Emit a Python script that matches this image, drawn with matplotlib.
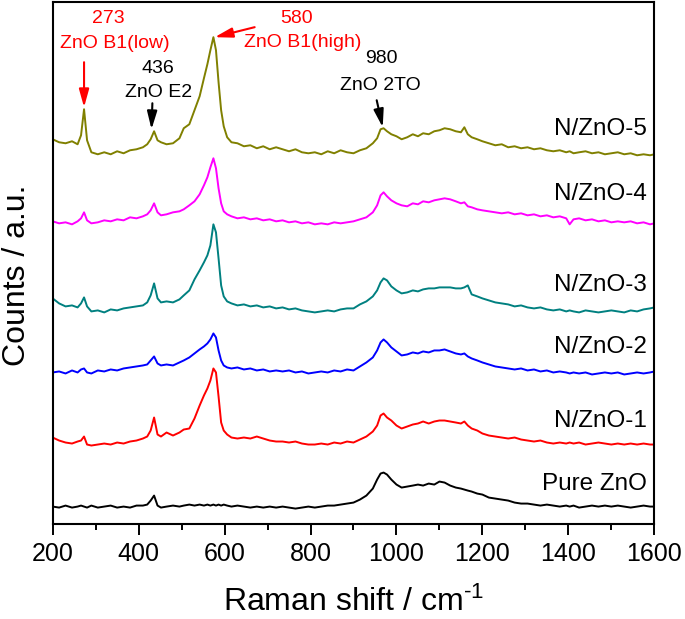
import matplotlib
matplotlib.use("Agg")
import matplotlib.pyplot as plt
from matplotlib.ticker import MultipleLocator

plt.rcParams['font.family'] = ['Liberation Sans', 'DejaVu Sans']
plt.rcParams['mathtext.default'] = 'regular'

# Raman shift grid (cm-1)
shift = [200, 215, 230, 245, 258, 266, 273, 280,
         290, 305, 320, 335, 350, 365, 380, 395,
         410, 420, 428, 436, 444, 452, 465, 480,
         495, 505, 518, 530, 542, 552, 560, 567,
         574, 580, 586, 592, 598, 606, 616, 630,
         645, 660, 675, 690, 705, 720, 735, 750,
         765, 780, 795, 810, 825, 840, 855, 870,
         885, 900, 915, 930, 945, 955, 963, 970,
         978, 988, 1000, 1012, 1025, 1038, 1050, 1062,
         1075, 1088, 1100, 1112, 1125, 1138, 1150, 1158,
         1166, 1175, 1188, 1200, 1215, 1230, 1245, 1260,
         1275, 1290, 1305, 1320, 1335, 1350, 1365, 1380,
         1395, 1403, 1412, 1425, 1440, 1455, 1470, 1485,
         1500, 1515, 1530, 1545, 1560, 1575, 1590, 1600]

# stacked intensities (a.u.), offsets already included
nzno5 = [385, 382, 381, 383, 380, 389, 415, 384,
         372, 370, 372, 370, 373, 371, 374, 375,
         377, 380, 385, 393, 384, 382, 380, 381,
         386, 396, 400, 414, 428, 446, 460, 474,
         487, 474, 442, 414, 398, 387, 382, 381,
         378, 379, 376, 378, 375, 377, 375, 373,
         375, 372, 371, 372, 370, 373, 371, 374,
         372, 371, 374, 376, 381, 386, 395, 396,
         393, 390, 388, 385, 387, 390, 388, 391,
         390, 393, 394, 396, 395, 393, 392, 397,
         390, 387, 385, 383, 381, 379, 380, 377,
         378, 376, 377, 375, 376, 374, 373, 374,
         372, 373, 371, 372, 373, 371, 372, 370,
         371, 372, 370, 371, 369, 370, 369, 370]

nzno4 = [303, 301, 302, 300, 303, 306, 312, 304,
         301, 302, 304, 303, 305, 304, 307, 306,
         308, 310, 314, 321, 312, 309, 310, 312,
         313, 315, 319, 323, 330, 339, 347, 357,
         366, 356, 336, 321, 313, 310, 308, 306,
         307, 305, 306, 304, 305, 303, 304, 302,
         303, 301, 302, 300, 301, 300, 302, 301,
         302, 303, 305, 307, 312, 319, 329, 332,
         328, 324, 321, 319, 318, 321, 320, 323,
         322, 324, 325, 326, 325, 323, 321, 322,
         318, 317, 315, 314, 313, 312, 311, 312,
         310, 311, 309, 310, 308, 309, 307, 308,
         306, 300, 305, 306, 304, 305, 303, 304,
         302, 303, 302, 303, 301, 302, 300, 301]

nzno3 = [226, 221, 218, 219, 217, 221, 227, 218,
         213, 214, 212, 215, 214, 216, 217, 218,
         219, 222, 229, 241, 226, 222, 223, 222,
         225, 229, 234, 245, 254, 262, 269, 279,
         300, 292, 266, 239, 228, 223, 221, 219,
         220, 218, 219, 217, 218, 216, 217, 215,
         216, 214, 213, 212, 213, 214, 213, 215,
         216, 216, 220, 223, 228, 234, 242, 246,
         244, 238, 234, 231, 232, 234, 233, 235,
         236, 236, 237, 237, 237, 236, 236, 237,
         239, 230, 228, 226, 224, 222, 221, 220,
         218, 219, 217, 216, 217, 215, 214, 215,
         213, 214, 213, 212, 214, 213, 212, 213,
         214, 213, 212, 214, 213, 215, 216, 217]

nzno2 = [152, 153, 151, 154, 152, 155, 156, 152,
         151, 154, 153, 155, 154, 156, 157, 158,
         159, 160, 164, 168, 161, 159, 160, 159,
         162, 164, 167, 171, 175, 178, 181, 185,
         191, 187, 174, 164, 159, 157, 156, 157,
         155, 156, 154, 155, 153, 154, 153, 154,
         152, 153, 151, 152, 153, 152, 154, 153,
         155, 154, 158, 162, 167, 174, 182, 185,
         182, 177, 173, 169, 170, 172, 171, 173,
         172, 174, 174, 175, 173, 171, 170, 171,
         168, 166, 164, 162, 160, 158, 157, 156,
         155, 156, 154, 155, 153, 154, 152, 153,
         152, 151, 152, 151, 152, 150, 151, 152,
         151, 152, 150, 151, 152, 151, 152, 153]

nzno1 = [87, 84, 82, 81, 83, 84, 88, 80,
         79, 80, 81, 80, 82, 81, 83, 84,
         86, 88, 94, 107, 90, 88, 92, 89,
         92, 95, 96, 106, 119, 129, 136, 144,
         156, 152, 128, 102, 94, 90, 87, 86,
         87, 86, 88, 86, 84, 83, 83, 82,
         83, 81, 80, 80, 81, 80, 82, 81,
         83, 82, 85, 88, 93, 99, 109, 111,
         107, 104, 99, 96, 98, 100, 101, 103,
         101, 103, 104, 104, 103, 102, 101, 103,
         99, 96, 94, 91, 89, 88, 87, 86,
         87, 85, 84, 83, 84, 82, 81, 82,
         81, 82, 81, 82, 80, 81, 82, 81,
         80, 81, 80, 81, 80, 81, 80, 80]

pure_zno = [18, 17, 19, 17, 18, 19, 18, 17,
            19, 17, 18, 19, 17, 18, 17, 19,
            19, 20, 24, 29, 19, 17, 18, 19,
            18, 19, 20, 19, 20, 19, 20, 19,
            20, 19, 20, 19, 20, 19, 18, 19,
            18, 17, 18, 17, 18, 17, 18, 17,
            16, 17, 18, 17, 18, 19, 19, 20,
            21, 22, 25, 29, 36, 45, 51, 52,
            50, 45, 40, 37, 38, 39, 40, 39,
            41, 40, 43, 42, 39, 37, 36, 35,
            34, 33, 31, 30, 27, 26, 25, 24,
            22, 21, 21, 20, 19, 20, 19, 18,
            19, 18, 19, 17, 18, 19, 18, 19,
            18, 19, 18, 17, 18, 19, 18, 18]

series = [nzno5, nzno4, nzno3, nzno2, nzno1, pure_zno]
names = ['N/ZnO-5', 'N/ZnO-4', 'N/ZnO-3', 'N/ZnO-2', 'N/ZnO-1', 'Pure ZnO']
colors = ['#808000', '#ff00ff', '#008080', '#0000ff', '#ff0000', '#000000']
label_y = [395, 330, 239, 177, 104, 41]

fig = plt.figure(figsize=(6.85, 6.19), dpi=100)
ax = fig.add_axes([0.0769, 0.153, 0.8783, 0.844])

for y, c in zip(series, colors):
    ax.plot(shift, y, color=c, lw=1.4)

for n, ly in zip(names, label_y):
    ax.text(1583, ly, n, ha='right', va='center', fontsize=17.5)

# peak annotations
arrow = dict(arrowstyle='-|>,head_length=0.9,head_width=0.25',
             shrinkA=0, shrinkB=0, mutation_scale=12, lw=1.5)
ax.text(330, 506, '273', color='red', ha='center', va='center', fontsize=14)
ax.text(345, 481, 'ZnO B1(low)', color='red', ha='center', va='center', fontsize=14)
ax.annotate('', xy=(273, 417), xytext=(273, 462),
            arrowprops=dict(arrow, color='red'))
ax.text(768, 506, '580', color='red', ha='center', va='center', fontsize=14)
ax.text(782, 482, 'ZnO B1(high)', color='red', ha='center', va='center', fontsize=14)
ax.annotate('', xy=(577, 487), xytext=(670, 497),
            arrowprops=dict(arrow, color='red'))
ax.text(445, 456, '436', ha='center', va='center', fontsize=14)
ax.text(447, 432, 'ZnO E2', ha='center', va='center', fontsize=14)
ax.annotate('', xy=(430, 395), xytext=(432, 421),
            arrowprops=dict(arrow, color='black'))
ax.text(965, 466, '980', ha='center', va='center', fontsize=14)
ax.text(962, 439, 'ZnO 2TO', ha='center', va='center', fontsize=14)
ax.annotate('', xy=(968, 397), xytext=(954, 424),
            arrowprops=dict(arrow, color='black'))

ax.set_xlim(200, 1600)
ax.set_ylim(0.3, 522.3)
ax.xaxis.set_major_locator(MultipleLocator(200))
ax.xaxis.set_minor_locator(MultipleLocator(100))
ax.set_yticks([])
ax.tick_params(axis='x', which='major', direction='out', length=7.7, width=1.4,
               labelsize=18, pad=5, top=False)
ax.tick_params(axis='x', which='minor', direction='out', length=4.3, width=1.4, top=False)
for s in ax.spines.values():
    s.set_linewidth(1.5)

ax.set_xlabel('Raman shift / cm$^{\u2010 1}$', fontsize=23, labelpad=15)
ax.set_ylabel('Counts / a.u.', fontsize=23)
ax.yaxis.set_label_coords(-0.035, 0.477)

fig.savefig('out.png', dpi=100)
